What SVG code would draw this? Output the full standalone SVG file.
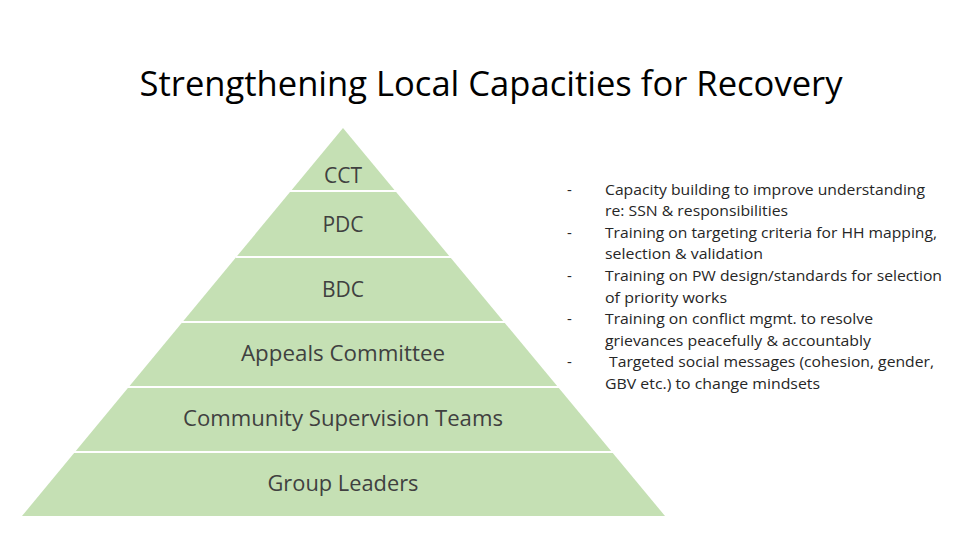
<svg xmlns="http://www.w3.org/2000/svg" width="960" height="540" viewBox="0 0 960 540">
<style>
text{font-family:"Open Sans","Liberation Sans",sans-serif;fill:#262626}
.l{font-size:21px;fill:#404040;text-anchor:middle}
.b{font-size:15px}
.sep{stroke:#fff;stroke-width:2}
</style>
<rect width="960" height="540" fill="#fff"/>
<text x="491" y="96" font-size="34" text-anchor="middle" textLength="703" lengthAdjust="spacingAndGlyphs" style="fill:#000">Strengthening Local Capacities for Recovery</text>
<g id="pyramid">
<polygon points="343,128 665,516 22,516" fill="#c5e0b4"/>
<g class="sep">
<line x1="290" y1="191" x2="397" y2="191"/>
<line x1="236" y1="257" x2="451" y2="257"/>
<line x1="182" y1="322" x2="505" y2="322"/>
<line x1="128" y1="387" x2="559" y2="387"/>
<line x1="74" y1="452" x2="613" y2="452"/>
</g>
</g>
<g id="cct"><text class="l" x="343" y="183">CCT</text></g>
<g id="pdc"><text class="l" x="343" y="232">PDC</text></g>
<g id="bdc"><text class="l" x="343" y="297">BDC</text></g>
<g id="appeals"><text class="l" x="343" y="361" textLength="204" lengthAdjust="spacingAndGlyphs">Appeals Committee</text></g>
<g id="cst"><text class="l" x="343" y="426" textLength="320" lengthAdjust="spacingAndGlyphs">Community Supervision Teams</text></g>
<g id="gl"><text class="l" x="343" y="491" textLength="151" lengthAdjust="spacingAndGlyphs">Group Leaders</text></g>
<g id="connectors"></g>
<g id="list" class="b">
<text x="567" y="195">-</text><text x="605" y="195" textLength="320" lengthAdjust="spacingAndGlyphs">Capacity building to improve understanding</text>
<text x="605" y="216" textLength="183" lengthAdjust="spacingAndGlyphs">re: SSN &amp; responsibilities</text>
<text x="567" y="238">-</text><text x="605" y="238" textLength="332" lengthAdjust="spacingAndGlyphs">Training on targeting criteria for HH mapping,</text>
<text x="605" y="259" textLength="158" lengthAdjust="spacingAndGlyphs">selection  &amp; validation</text>
<text x="567" y="281">-</text><text x="605" y="281" textLength="337" lengthAdjust="spacingAndGlyphs">Training on PW design/standards for selection</text>
<text x="605" y="303" textLength="122" lengthAdjust="spacingAndGlyphs">of priority works</text>
<text x="567" y="324">-</text><text x="605" y="324" textLength="268" lengthAdjust="spacingAndGlyphs">Training on conflict mgmt. to resolve</text>
<text x="605" y="346" textLength="266" lengthAdjust="spacingAndGlyphs">grievances peacefully &amp; accountably</text>
<text x="567" y="367">-</text><text x="609" y="367" textLength="325" lengthAdjust="spacingAndGlyphs">Targeted social messages (cohesion, gender,</text>
<text x="605" y="389" textLength="215" lengthAdjust="spacingAndGlyphs">GBV etc.) to change mindsets</text>
</g>
</svg>
